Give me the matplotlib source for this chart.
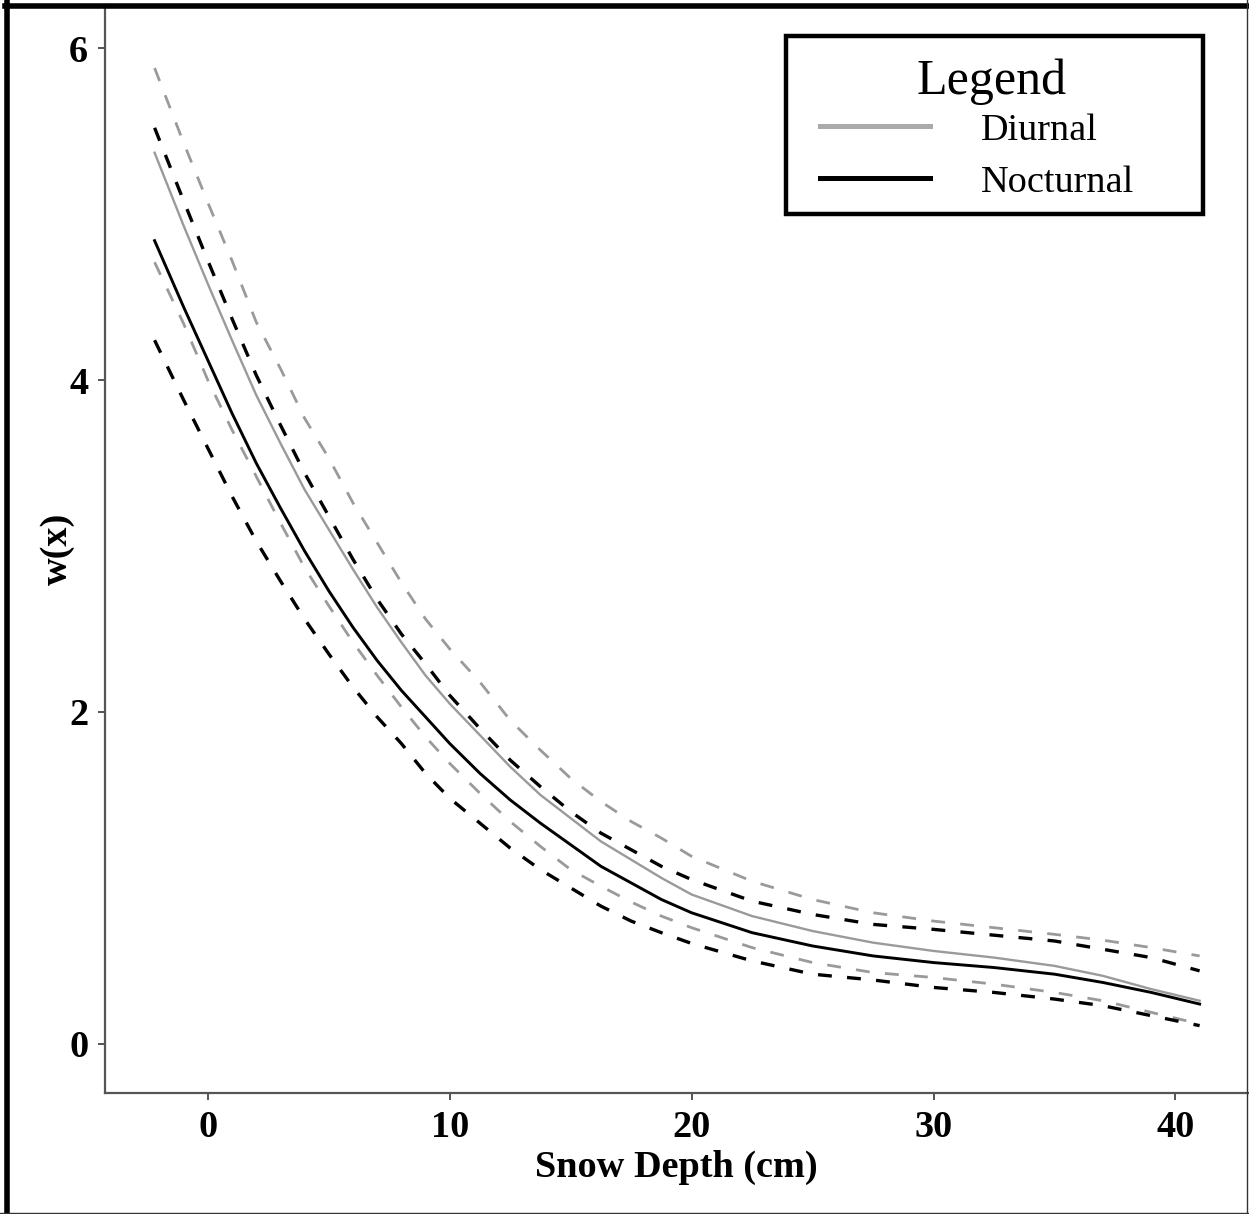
import matplotlib
matplotlib.use("Agg")
import matplotlib.pyplot as plt
from matplotlib.lines import Line2D
from matplotlib.patches import Rectangle

# snow depth (cm) where the curves were read
depth = [-2.2, -1, 0, 1, 2, 3, 4, 5, 6, 7, 8, 9, 10, 11.25, 12.5, 13.75, 15,
         16.25, 17.5, 18.75, 20, 22.5, 25, 27.5, 30, 32.5, 35, 37, 39, 41]

diurnal = [5.37, 4.93, 4.58, 4.24, 3.91, 3.62, 3.34, 3.10, 2.86, 2.63, 2.42, 2.22, 2.05, 1.86, 1.67,
           1.50, 1.36, 1.22, 1.11, 1.00, 0.90, 0.77, 0.68, 0.61, 0.56, 0.52, 0.47, 0.41, 0.33, 0.26]
diurnal_hi = [5.88, 5.43, 5.07, 4.72, 4.35, 4.07, 3.77, 3.53, 3.26, 3.02, 2.78, 2.56, 2.38, 2.18, 1.95,
              1.77, 1.60, 1.46, 1.34, 1.24, 1.13, 0.98, 0.87, 0.79, 0.74, 0.70, 0.66, 0.625, 0.58, 0.53]
diurnal_lo = [4.71, 4.34, 4.00, 3.70, 3.42, 3.14, 2.87, 2.64, 2.42, 2.22, 2.03, 1.85, 1.69, 1.51, 1.34,
              1.19, 1.05, 0.95, 0.855, 0.77, 0.70, 0.58, 0.49, 0.43, 0.40, 0.36, 0.31, 0.26, 0.19, 0.12]

nocturnal = [4.84, 4.44, 4.12, 3.80, 3.50, 3.23, 2.97, 2.73, 2.51, 2.31, 2.13, 1.97, 1.81, 1.63, 1.47,
             1.33, 1.20, 1.07, 0.97, 0.87, 0.79, 0.67, 0.59, 0.53, 0.49, 0.46, 0.42, 0.37, 0.31, 0.24]
nocturnal_hi = [5.52, 5.08, 4.72, 4.37, 4.03, 3.73, 3.44, 3.18, 2.92, 2.68, 2.47, 2.29, 2.10, 1.90, 1.71,
                1.55, 1.40, 1.27, 1.17, 1.07, 0.99, 0.86, 0.78, 0.72, 0.69, 0.655, 0.62, 0.57, 0.52, 0.44]
nocturnal_lo = [4.24, 3.88, 3.59, 3.30, 3.03, 2.79, 2.56, 2.35, 2.15, 1.97, 1.81, 1.63, 1.48, 1.33, 1.18,
                1.05, 0.94, 0.83, 0.74, 0.67, 0.605, 0.50, 0.42, 0.385, 0.34, 0.31, 0.27, 0.23, 0.17, 0.11]

x_ticks = [0, 10, 20, 30, 40]
y_ticks = [0, 2, 4, 6]

GRAY = "#9a9a9a"
BLACK = "#000000"

plt.rcParams["font.family"] = ["Liberation Serif", "DejaVu Serif"]
plt.rcParams["lines.scale_dashes"] = False

W, H = 1249, 1214
fig = plt.figure(figsize=(W / 100, H / 100), dpi=100)
ax = fig.add_axes([105 / W, 1 - 1093 / H, (1248 - 105) / W, (1093 - 5) / H])

dash = (0, (10, 11))
ax.plot(depth, diurnal_hi, color=GRAY, lw=2.0, linestyle=dash)
ax.plot(depth, diurnal_lo, color=GRAY, lw=2.0, linestyle=dash)
ax.plot(depth, nocturnal_hi, color=BLACK, lw=2.4, linestyle=dash)
ax.plot(depth, nocturnal_lo, color=BLACK, lw=2.4, linestyle=dash)
ax.plot(depth, diurnal, color=GRAY, lw=1.7)
ax.plot(depth, nocturnal, color=BLACK, lw=2.1)

ax.set_xlim(-4.25, 43.0)
ax.set_ylim(-0.296, 6.26)
ax.set_xticks(x_ticks)
ax.set_yticks(y_ticks)

for side in ("top", "right"):
    ax.spines[side].set_visible(False)
for side in ("left", "bottom"):
    ax.spines[side].set_color("#555555")
    ax.spines[side].set_linewidth(1.6)

ax.tick_params(length=5, width=1.4, color="#555555", labelsize=27.5, pad=7)
for lab in ax.get_xticklabels() + ax.get_yticklabels():
    lab.set_fontweight("bold")

ax.set_xlabel("Snow Depth (cm)", fontsize=27.5, fontweight="bold", labelpad=4)
ax.set_ylabel("w(x)", fontsize=27.5, fontweight="bold", labelpad=-4)

# legend: entries without frame, title and box drawn separately
handles = [
    Line2D([], [], color="#aaaaaa", lw=3.6),
    Line2D([], [], color=BLACK, lw=3.6),
]
leg = ax.legend(
    handles, ["Diurnal", "Nocturnal"], fontsize=27.5,
    loc="upper left", bbox_to_anchor=(820 / W, 1 - 113 / H),
    bbox_transform=fig.transFigure, borderaxespad=0, borderpad=0,
    handlelength=2.88, handletextpad=1.33, labelspacing=0.45,
    frameon=False,
)
fig.text(992 / W, 1 - 82 / H, "Legend", fontsize=36, ha="center", va="center")
fig.add_artist(Rectangle((786 / W, 1 - 214 / H), (1203 - 786) / W, (214 - 36) / H,
                         transform=fig.transFigure, fill=False, edgecolor="black", lw=3.2))

# outer frame of the picture
fig.add_artist(Line2D([7 / W, 7 / W], [0, 1 - 2 / H], transform=fig.transFigure, color="black", lw=4))
fig.add_artist(Line2D([5 / W, 1], [1 - 6 / H, 1 - 6 / H], transform=fig.transFigure, color="black", lw=4))
fig.add_artist(Line2D([1247 / W, 1247 / W], [0, 1], transform=fig.transFigure, color="#333333", lw=1))
fig.add_artist(Line2D([0, 1], [1.5 / H, 1.5 / H], transform=fig.transFigure, color="#333333", lw=1))

fig.savefig("out.png", dpi=100)
